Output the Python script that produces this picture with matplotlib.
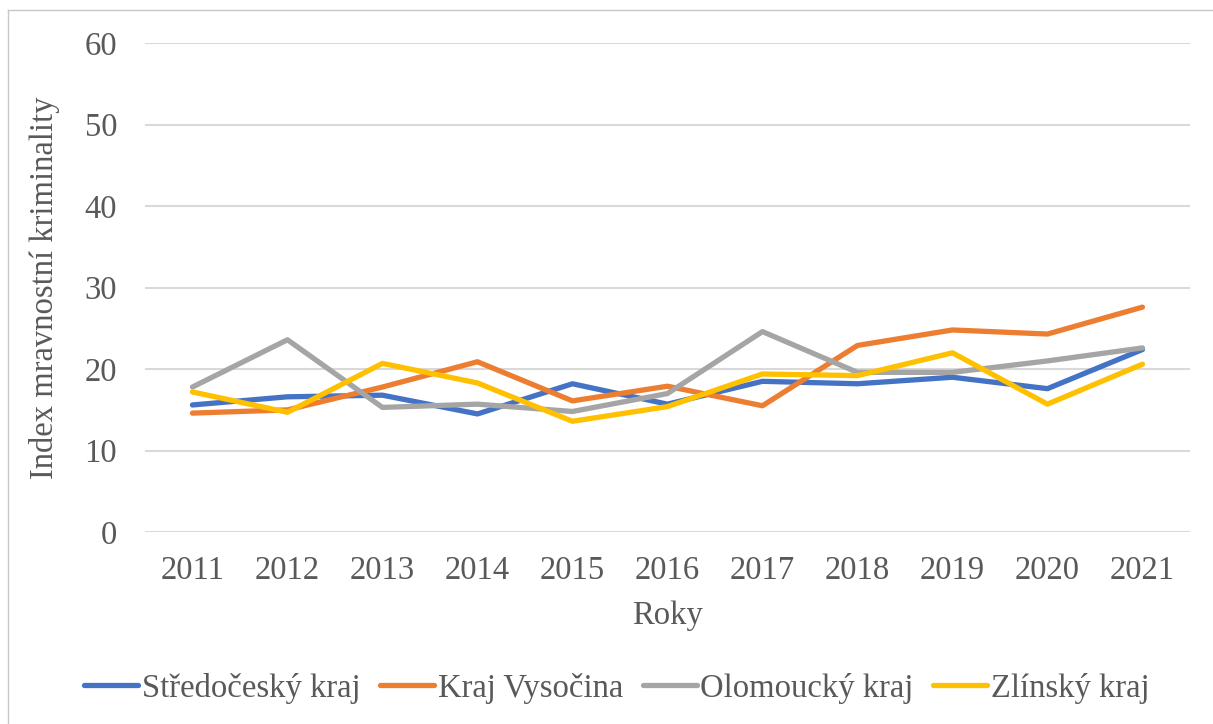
import matplotlib
matplotlib.use('Agg')
import matplotlib.pyplot as plt
from matplotlib.lines import Line2D

plt.rcParams['font.family'] = ['Liberation Serif', 'DejaVu Serif']

years = ['2011', '2012', '2013', '2014', '2015', '2016', '2017', '2018', '2019', '2020', '2021']
stredocesky = [15.6, 16.6, 16.8, 14.5, 18.2, 15.7, 18.5, 18.2, 19.0, 17.6, 22.4]
vysocina = [14.6, 15.0, 17.8, 20.9, 16.1, 17.9, 15.5, 22.9, 24.8, 24.3, 27.6]
olomoucky = [17.8, 23.6, 15.3, 15.7, 14.8, 17.0, 24.6, 19.6, 19.6, 21.0, 22.6]
zlinsky = [17.2, 14.7, 20.7, 18.3, 13.6, 15.4, 19.4, 19.2, 22.0, 15.7, 20.6]

names = ['Středočeský kraj', 'Kraj Vysočina', 'Olomoucký kraj', 'Zlínský kraj']
colors = ['#4472c4', '#ed7d31', '#a5a5a5', '#ffc000']
series = [stredocesky, vysocina, olomoucky, zlinsky]

txt = '#595959'
fs = 23.5

fig = plt.figure(figsize=(12.13, 7.24), dpi=100)
ax = fig.add_axes([0.1195, 0.265, 0.8615, 0.6756])

x = range(len(years))
for vals, c, n in zip(series, colors, names):
    ax.plot(x, vals, color=c, lw=3.8, label=n, solid_capstyle='round', zorder=3)

ax.set_xlim(-0.5, len(years) - 0.5)
ax.set_ylim(0, 60)
ax.set_yticks(range(0, 61, 10))
ax.set_xticks(list(x))
ax.set_xticklabels(years)
ax.grid(axis='y', color='#d9d9d9', lw=1.5)
ax.set_axisbelow(True)
for s in ax.spines.values():
    s.set_visible(False)
ax.tick_params(axis='both', length=0, labelsize=fs, labelcolor=txt)
ax.tick_params(axis='y', pad=20)
ax.tick_params(axis='x', pad=17)

ax.set_xlabel('Roky', fontsize=fs, color=txt, labelpad=10)
ax.set_ylabel('Index mravnostní kriminality', fontsize=fs, color=txt, labelpad=18)

handles = [Line2D([0], [0], color=c, lw=3.8, solid_capstyle='round') for c in colors]
fig.legend(handles, names, loc='center', bbox_to_anchor=(617 / 1213, 1 - 688 / 724),
           ncol=4, frameon=False, fontsize=fs, labelcolor=txt,
           handlelength=1.65, handletextpad=0.12, columnspacing=0.6)

# light frame at the top and left edge
fig.add_artist(Line2D([8 / 1213, 8 / 1213], [0, 1 - 10 / 724], transform=fig.transFigure, color='#c8c8c8', lw=1))
fig.add_artist(Line2D([8 / 1213, 1], [1 - 10 / 724, 1 - 10 / 724], transform=fig.transFigure, color='#c8c8c8', lw=1))

fig.savefig('out.png', dpi=100)
